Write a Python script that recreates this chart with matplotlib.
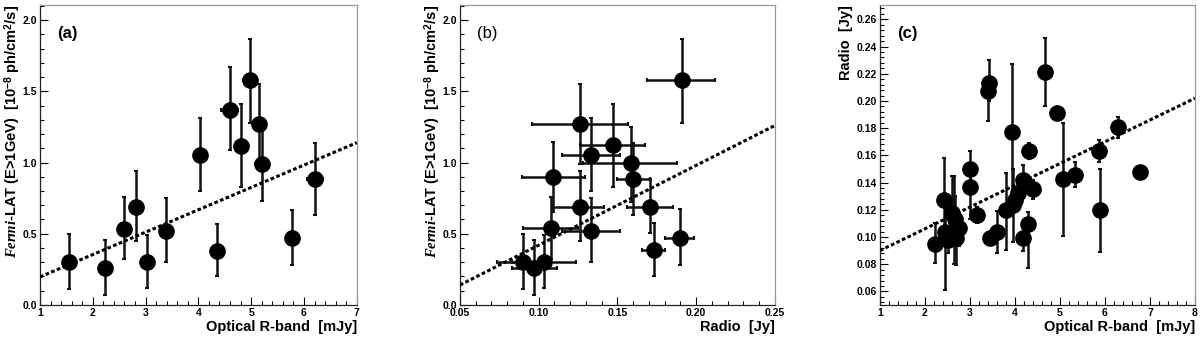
import matplotlib
matplotlib.use("Agg")
import matplotlib.pyplot as plt
from matplotlib.ticker import MultipleLocator, FormatStrFormatter
import numpy as np

plt.rcParams["font.family"] = ["Liberation Sans", "DejaVu Sans"]
plt.rcParams["font.weight"] = "bold"
plt.rcParams["mathtext.fontset"] = "custom"
plt.rcParams["mathtext.it"] = "Liberation Serif:italic"
plt.rcParams["mathtext.rm"] = "Liberation Sans:bold"
plt.rcParams["mathtext.bf"] = "Liberation Sans:bold"

# ---------------------------------------------------------------
# (a) gamma-ray flux vs optical R-band
a_x = [1.55, 2.23, 2.59, 2.82, 3.03, 3.38, 4.04, 4.35, 4.59, 4.80, 4.97, 5.15, 5.20, 5.78, 6.21]
a_y = [0.30, 0.26, 0.53, 0.685, 0.30, 0.52, 1.05, 0.38, 1.37, 1.115, 1.58, 1.27, 0.99, 0.47, 0.885]
a_ylo = [0.11, 0.07, 0.32, 0.45, 0.12, 0.30, 0.80, 0.20, 1.09, 0.83, 1.28, 0.99, 0.73, 0.28, 0.63]
a_yhi = [0.50, 0.455, 0.76, 0.94, 0.49, 0.75, 1.31, 0.57, 1.67, 1.41, 1.87, 1.55, 1.22, 0.67, 1.14]
a_xerr = [0.05, 0.05, 0.05, 0.05, 0.05, 0.05, 0.05, 0.10, 0.17, 0.10, 0.12, 0.07, 0.12, 0.05, 0.15]
a_fit = (0.157, 0.04)  # slope, intercept

# (b) gamma-ray flux vs radio
b_x = [0.0898, 0.097, 0.1033, 0.1076, 0.1093, 0.133, 0.1262, 0.126, 0.133, 0.1473,
       0.1584, 0.1596, 0.1706, 0.1732, 0.1897, 0.1908]
b_y = [0.30, 0.26, 0.30, 0.537, 0.897, 0.52, 0.685, 1.27, 1.05, 1.12,
       0.995, 0.885, 0.69, 0.385, 0.47, 1.58]
b_ylo = [0.11, 0.07, 0.12, 0.32, 0.65, 0.30, 0.45, 0.99, 0.80, 0.83,
         0.72, 0.63, 0.505, 0.204, 0.28, 1.28]
b_yhi = [0.50, 0.455, 0.49, 0.76, 1.143, 0.75, 0.94, 1.55, 1.31, 1.41,
         1.25, 1.14, 0.885, 0.573, 0.674, 1.87]
b_xlo = [0.0733, 0.0832, 0.083, 0.0898, 0.0891, 0.115, 0.1093, 0.096, 0.1145, 0.1262,
         0.128, 0.1495, 0.1558, 0.1653, 0.1801, 0.1685]
b_xhi = [0.1072, 0.1114, 0.1237, 0.125, 0.1294, 0.1516, 0.1414, 0.1569, 0.1516, 0.1675,
         0.1876, 0.1706, 0.1855, 0.1801, 0.1986, 0.2119]
b_fit = (5.6, -0.14)

# (c) radio vs optical R-band
c_x = [2.22, 2.42, 2.44, 2.52, 2.59, 2.65, 2.66, 2.70, 2.76, 2.99, 2.99, 3.15,
       3.41, 3.43, 3.44, 3.61, 3.81, 3.93, 3.96, 4.00, 4.07, 4.17, 4.17, 4.32,
       4.30, 4.39, 4.67, 4.93, 5.07, 5.33, 5.87, 5.89, 6.30, 6.78]
c_y = [0.095, 0.127, 0.104, 0.098, 0.1175, 0.103, 0.113, 0.099, 0.1065, 0.150, 0.137, 0.116,
       0.207, 0.213, 0.099, 0.1035, 0.1195, 0.1775, 0.1236, 0.127, 0.132, 0.142, 0.099, 0.163,
       0.1097, 0.135, 0.221, 0.191, 0.1425, 0.1457, 0.163, 0.120, 0.1807, 0.1477]
c_ylo = [0.081, 0.098, 0.061, 0.088, 0.100, 0.080, 0.095, 0.0796, 0.093, 0.140, 0.113, 0.110,
         0.185, 0.200, 0.095, 0.088, 0.0906, 0.128, 0.096, 0.118, 0.125, 0.131, 0.090, 0.157,
         0.077, 0.128, 0.196, 0.188, 0.101, 0.137, 0.155, 0.089, 0.173, 0.145]
c_yhi = [0.110, 0.158, 0.130, 0.108, 0.145, 0.145, 0.130, 0.118, 0.112, 0.163, 0.150, 0.122,
         0.215, 0.230, 0.103, 0.1188, 0.147, 0.227, 0.150, 0.136, 0.139, 0.153, 0.108, 0.169,
         0.118, 0.142, 0.246, 0.194, 0.184, 0.155, 0.171, 0.150, 0.188, 0.150]
c_xerr = [0.05, 0.05, 0.05, 0.05, 0.05, 0.05, 0.05, 0.05, 0.05, 0.05, 0.05, 0.05,
          0.05, 0.05, 0.05, 0.05, 0.05, 0.05, 0.05, 0.05, 0.05, 0.05, 0.05, 0.08,
          0.05, 0.05, 0.10, 0.12, 0.05, 0.05, 0.05, 0.05, 0.12, 0.10]
c_fit = (0.0160, 0.074)

fermi_label = r"$\mathit{Fermi}$-LAT (E>1GeV)  [10$^{-8}$ ph/cm$^{2}$/s]"

# ---------------------------------------------------------------
fig = plt.figure(figsize=(12, 3.37), dpi=100)

ax_a = fig.add_axes([0.0333, 0.095, 0.264, 0.890])
ax_b = fig.add_axes([0.3833, 0.095, 0.2625, 0.890])
ax_c = fig.add_axes([0.7333, 0.095, 0.2625, 0.890])

ms = 11
col = "black"


def style_axis(ax, xlim, ylim, xmaj, xmin, ymaj, ymin, xfmt, yfmt):
    ax.set_xlim(*xlim)
    ax.set_ylim(*ylim)
    ax.xaxis.set_major_locator(MultipleLocator(xmaj))
    ax.xaxis.set_minor_locator(MultipleLocator(xmin))
    ax.yaxis.set_major_locator(MultipleLocator(ymaj))
    ax.yaxis.set_minor_locator(MultipleLocator(ymin))
    ax.xaxis.set_major_formatter(FormatStrFormatter(xfmt))
    ax.yaxis.set_major_formatter(FormatStrFormatter(yfmt))
    ax.tick_params(which="both", direction="in", top=False, right=False,
                   labelsize=7.5, width=0.8)
    ax.tick_params(which="major", length=6, pad=2)
    ax.tick_params(which="minor", length=3)
    for s in ["left", "bottom"]:
        ax.spines[s].set_color("#222222")
        ax.spines[s].set_linewidth(0.9)
    for s in ["top", "right"]:
        ax.spines[s].set_color("#999999")
        ax.spines[s].set_linewidth(0.9)


def draw(ax, x, y, xerr, ylo, yhi, fit, xlim):
    x = np.asarray(x)
    y = np.asarray(y)
    yerr = [y - np.asarray(ylo), np.asarray(yhi) - y]
    ax.errorbar(x, y, xerr=xerr, yerr=yerr, fmt="o", ms=ms, color=col,
                ecolor="#111111", elinewidth=1.8, capsize=1.5, capthick=1.5,
                zorder=3)
    xx = np.linspace(xlim[0], xlim[1], 50)
    ax.plot(xx, fit[0] * xx + fit[1], color="black", lw=2.2,
            linestyle=(0, (1.2, 0.8)), zorder=4)


def set_labels(ax, xlabel, ylabel, ylab_x, panel, panel_bold):
    ax.set_xlabel(xlabel, fontsize=10.5, fontweight="bold", loc="right")
    ax.xaxis.set_label_coords(1.0, -0.075)
    ax.xaxis.label.set_va("center")
    ax.set_ylabel(ylabel, fontsize=10.5, fontweight="bold", loc="top")
    ax.yaxis.set_label_coords(ylab_x, 1.0)
    ax.text(0.055, 0.905, panel, transform=ax.transAxes, fontsize=12,
            fontweight="bold" if panel_bold else "normal", va="center")


# (a)
style_axis(ax_a, (1, 7), (0, 2.105), 1, 0.2, 0.5, 0.1, "%d", "%.1f")
xerr_a = np.asarray(a_xerr)
draw(ax_a, a_x, a_y, xerr_a, a_ylo, a_yhi, a_fit, (1, 7))
set_labels(ax_a, "Optical R-band  [mJy]", fermi_label, -0.055, "(a)", True)

# (b)
style_axis(ax_b, (0.05, 0.25), (0, 2.105), 0.05, 0.01, 0.5, 0.1, "%.2f", "%.1f")
bx = np.asarray(b_x)
xerr_b = [bx - np.asarray(b_xlo), np.asarray(b_xhi) - bx]
draw(ax_b, b_x, b_y, xerr_b, b_ylo, b_yhi, b_fit, (0.05, 0.25))
set_labels(ax_b, "Radio  [Jy]", fermi_label, -0.055, "(b)", False)

# (c)
style_axis(ax_c, (1, 8), (0.05, 0.2705), 1, 0.2, 0.02, 0.004, "%d", "%.2f")
draw(ax_c, c_x, c_y, np.asarray(c_xerr), c_ylo, c_yhi, c_fit, (1, 8))
set_labels(ax_c, "Optical R-band  [mJy]", "Radio  [Jy]", -0.085, "(c)", True)

fig.savefig("out.png", dpi=100)
